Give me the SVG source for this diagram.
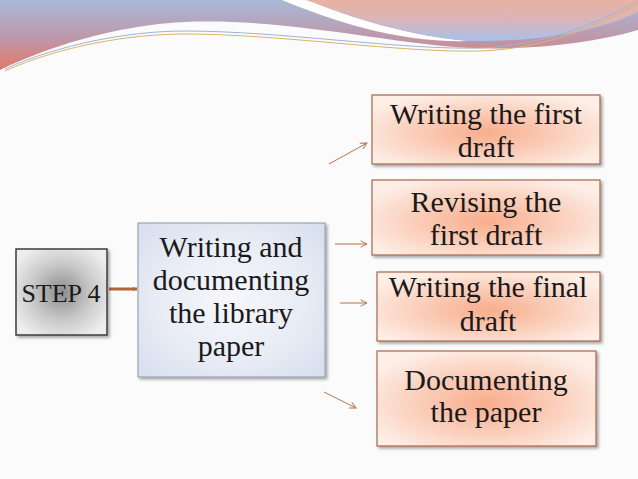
<svg xmlns="http://www.w3.org/2000/svg" width="638" height="479" viewBox="0 0 638 479">
<style>
  .t { font-family: "Liberation Serif", "DejaVu Serif", serif; font-size: 30px; fill: #1a1a1a; text-anchor: middle; }
  .step { font-family: "Liberation Serif", "DejaVu Serif", serif; font-size: 26px; fill: #1a1a1a; text-anchor: middle; }
  .box { fill: url(#peach); stroke: #a8674a; stroke-width: 1.2; filter: url(#sh); }
  .conn { stroke: #b8734f; stroke-width: 1; fill: none; marker-end: url(#ah); }
</style>
<defs>
  <linearGradient id="band" gradientUnits="userSpaceOnUse" x1="0" y1="0" x2="0" y2="72">
    <stop offset="0" stop-color="#a8b9d8"/>
    <stop offset="0.55" stop-color="#bf96a8"/>
    <stop offset="0.8" stop-color="#d48580"/>
    <stop offset="1" stop-color="#e3766a"/>
  </linearGradient>
  <linearGradient id="tr" gradientUnits="userSpaceOnUse" x1="0" y1="0" x2="0" y2="42">
    <stop offset="0" stop-color="#e9b1a2"/>
    <stop offset="0.45" stop-color="#dcb5b8"/>
    <stop offset="1" stop-color="#a6c0ec"/>
  </linearGradient>
  <radialGradient id="peach" cx="0.5" cy="0.55" r="0.6">
    <stop offset="0" stop-color="#f8ad8c"/>
    <stop offset="0.6" stop-color="#fbd3c1"/>
    <stop offset="1" stop-color="#fdeee6"/>
  </radialGradient>
  <radialGradient id="gray" cx="0.5" cy="0.5" r="0.6">
    <stop offset="0" stop-color="#8c8c8c"/>
    <stop offset="0.55" stop-color="#c9c9c9"/>
    <stop offset="1" stop-color="#eeeeee"/>
  </radialGradient>
  <radialGradient id="blue" cx="0.5" cy="0.5" r="0.65">
    <stop offset="0" stop-color="#f6f7fb"/>
    <stop offset="0.6" stop-color="#e8ecf5"/>
    <stop offset="1" stop-color="#d9e0ee"/>
  </radialGradient>
  <filter id="sh" x="-10%" y="-10%" width="130%" height="130%">
    <feDropShadow dx="2" dy="2" stdDeviation="1.5" flood-color="#000" flood-opacity="0.35"/>
  </filter>
  <marker id="ah" viewBox="0 0 10 10" refX="9" refY="5" markerWidth="8" markerHeight="8" orient="auto" markerUnits="userSpaceOnUse">
    <path d="M1,1 L9,5 L1,9" fill="none" stroke="#b8734f" stroke-width="1.2"/>
  </marker>
  <marker id="ah2" viewBox="0 0 10 10" refX="8" refY="5" markerWidth="5" markerHeight="5" orient="auto" markerUnits="userSpaceOnUse">
    <path d="M0,1 L9,5 L0,9 Z" fill="#b5653c"/>
  </marker>
</defs>

<rect x="0" y="0" width="638" height="479" fill="#fbfbfb"/>

<g id="header">
  <path d="M0,0 H638 V30 C590,44 530,50 470,48 C390,44 290,18 185,22 C115,25 45,48 0,70 Z" fill="url(#band)"/>
  <path d="M282,0 H308 C350,18 410,36 470,41 C400,43 335,22 282,0 Z" fill="#ffffff"/>
  <path d="M306,0 H638 V12 C600,30 545,42 470,41 C410,37 350,16 306,0 Z" fill="url(#tr)"/>
  <path d="M5,71 C60,46 130,34 185,34 C280,34 400,53 480,51 C545,49 600,25 638,4" fill="none" stroke="#d8b46c" stroke-width="1"/>
  <path d="M5,69 C60,44 130,31 185,31 C280,31 400,50 480,48 C545,46 600,22 638,1" fill="none" stroke="#9db3d8" stroke-width="1"/>
</g>

<g id="connectors">
  <line x1="109" y1="289" x2="137" y2="289" stroke="#b5653c" stroke-width="3" marker-end="url(#ah2)"/>
  <line class="conn" x1="329" y1="164" x2="367" y2="143"/>
  <line class="conn" x1="335" y1="244" x2="367" y2="244"/>
  <line class="conn" x1="340" y1="303" x2="367" y2="303"/>
  <line class="conn" x1="324" y1="392" x2="356" y2="408"/>
</g>

<g id="step4">
  <rect x="16" y="249" width="91" height="86" fill="url(#gray)" stroke="#3c3c3c" stroke-width="1.5" filter="url(#sh)"/>
  <text class="step" x="61" y="302">STEP 4</text>
</g>

<g id="main">
  <rect x="138" y="223" width="187" height="154" fill="url(#blue)" stroke="#8c96aa" stroke-width="1" filter="url(#sh)"/>
  <text class="t" x="231" y="257">Writing and</text>
  <text class="t" x="231" y="290">documenting</text>
  <text class="t" x="231" y="323">the library</text>
  <text class="t" x="231" y="356">paper</text>
</g>

<g id="first-draft">
  <rect class="box" x="372" y="95" width="228" height="69"/>
  <text class="t" x="486" y="124">Writing the first</text>
  <text class="t" x="486" y="157">draft</text>
</g>

<g id="revising">
  <rect class="box" x="372" y="180" width="228" height="75"/>
  <text class="t" x="486" y="212">Revising the</text>
  <text class="t" x="486" y="245">first draft</text>
</g>

<g id="final-draft">
  <rect class="box" x="377" y="272" width="223" height="69"/>
  <text class="t" x="488" y="297">Writing the final</text>
  <text class="t" x="488" y="331">draft</text>
</g>

<g id="documenting">
  <rect class="box" x="377" y="351" width="219" height="95"/>
  <text class="t" x="486" y="390">Documenting</text>
  <text class="t" x="486" y="422">the paper</text>
</g>
</svg>
